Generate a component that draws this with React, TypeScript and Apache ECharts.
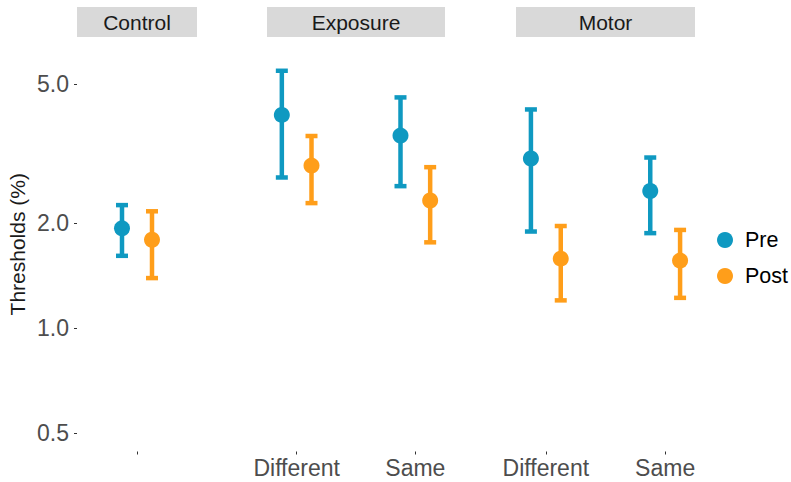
import React, { useEffect, useRef } from "react";
import * as echarts from "echarts";

// Facets and their categories
const facets = ["Control", "Exposure", "Motor"];
const facetCategories = [[""], ["Different", "Same"], ["Different", "Same"]];

// Values in order: Control, Exposure-Different, Exposure-Same, Motor-Different, Motor-Same
const preMean = [1.93, 4.08, 3.56, 3.06, 2.47];
const preLow = [1.61, 2.7, 2.55, 1.89, 1.87];
const preHigh = [2.25, 5.46, 4.58, 4.23, 3.08];

const postMean = [1.79, 2.92, 2.32, 1.58, 1.56];
const postLow = [1.39, 2.28, 1.76, 1.2, 1.22];
const postHigh = [2.16, 3.55, 2.89, 1.96, 1.91];

const yTicks = [0.5, 1.0, 2.0, 5.0];
const groups = ["Pre", "Post"];

const COLORS = ["#0F99C1", "#FF9E1A"];
const FONT = "'Liberation Sans', Arial, Helvetica, sans-serif";

// layout
const PANEL_TOP = 37;
const PANEL_HEIGHT = 414.5;
const panels = [
  { left: 77, width: 120, min: -0.5, max: 0.5 },
  { left: 267, width: 178, min: -0.25, max: 1.25 },
  { left: 516, width: 179, min: -0.25, max: 1.25 },
];
const DODGE = 0.125;
const Y_MIN = -0.354;
const Y_MAX = 0.834;

export default function App() {
  const ref = useRef<HTMLDivElement>(null);

  useEffect(() => {
    if (!ref.current) return;
    const chart = echarts.init(ref.current, undefined, { renderer: "svg" });

    const grids: any[] = [];
    const xAxes: any[] = [];
    const yAxes: any[] = [];
    const series: any[] = [];
    const graphics: any[] = [];

    const groupData = [
      { mean: preMean, low: preLow, high: preHigh },
      { mean: postMean, low: postLow, high: postHigh },
    ];

    let flatIndex = 0;
    facets.forEach((facet, fi) => {
      const p = panels[fi];
      const cats = facetCategories[fi];
      grids.push({
        left: p.left,
        width: p.width,
        top: PANEL_TOP,
        height: PANEL_HEIGHT,
        containLabel: false,
      });
      const catIdx = cats.map((_, i) => i);
      xAxes.push({
        type: "value",
        gridIndex: fi,
        position: "bottom",
        min: p.min,
        max: p.max,
        axisLine: { show: false, onZero: false },
        splitLine: { show: false },
        axisTick: {
          show: true,
          customValues: catIdx,
          length: 3,
          lineStyle: { color: "#333333", width: 1 },
        },
        axisLabel: {
          show: true,
          customValues: catIdx,
          formatter: (v: number) => cats[Math.round(v)] ?? "",
          margin: 5,
          fontSize: 23,
          color: "#4D4D4D",
          fontFamily: FONT,
        },
      });
      yAxes.push({
        type: "value",
        gridIndex: fi,
        position: "left",
        min: Y_MIN,
        max: Y_MAX,
        show: fi === 0,
        name: fi === 0 ? "Thresholds (%)" : "",
        nameLocation: "middle",
        nameRotate: 90,
        nameGap: 49,
        nameTextStyle: { fontSize: 21, color: "#1A1A1A", fontFamily: FONT },
        axisLine: { show: false, onZero: false },
        splitLine: { show: false },
        axisTick: {
          show: fi === 0,
          customValues: yTicks.map((t) => Math.log10(t)),
          length: 3,
          lineStyle: { color: "#333333", width: 1 },
        },
        axisLabel: {
          show: fi === 0,
          customValues: yTicks.map((t) => Math.log10(t)),
          formatter: (v: number) => Math.pow(10, v).toFixed(1),
          margin: 8,
          fontSize: 23,
          color: "#4D4D4D",
          fontFamily: FONT,
        },
      });

      // strip
      graphics.push({
        type: "rect",
        left: p.left,
        top: 7,
        shape: { width: p.width, height: 30 },
        style: { fill: "#D9D9D9" },
        silent: true,
      });
      graphics.push({
        type: "text",
        x: p.left + p.width / 2,
        y: 22.5,
        style: {
          text: facet,
          fontSize: 21,
          fill: "#1A1A1A",
          fontFamily: FONT,
          align: "center",
          verticalAlign: "middle",
        },
        silent: true,
      });

      groups.forEach((g, gi) => {
        const offset = gi === 0 ? -DODGE : DODGE;
        const gd = groupData[gi];
        const barData: number[][] = [];
        const pointData: number[][] = [];
        cats.forEach((_, ci) => {
          const k = flatIndex + ci;
          const x = ci + offset;
          barData.push([x, Math.log10(gd.low[k]), Math.log10(gd.high[k])]);
          pointData.push([x, Math.log10(gd.mean[k])]);
        });
        series.push({
          type: "custom",
          name: g,
          xAxisIndex: fi,
          yAxisIndex: fi,
          data: barData,
          encode: { x: 0, y: [1, 2] },
          z: 2,
          itemStyle: { color: COLORS[gi] },
          renderItem: (params: any, api: any) => {
            const x = api.value(0);
            const lo = api.coord([x, api.value(1)]);
            const hi = api.coord([x, api.value(2)]);
            const half = 6;
            const st = { stroke: COLORS[gi], lineWidth: 4.5, lineCap: "butt" };
            return {
              type: "group",
              children: [
                { type: "line", shape: { x1: lo[0], y1: lo[1], x2: hi[0], y2: hi[1] }, style: st },
                { type: "line", shape: { x1: lo[0] - half, y1: lo[1], x2: lo[0] + half, y2: lo[1] }, style: st },
                { type: "line", shape: { x1: hi[0] - half, y1: hi[1], x2: hi[0] + half, y2: hi[1] }, style: st },
              ],
            };
          },
        });
        series.push({
          type: "scatter",
          name: g,
          xAxisIndex: fi,
          yAxisIndex: fi,
          data: pointData,
          symbol: "circle",
          symbolSize: 16,
          z: 3,
          itemStyle: { color: COLORS[gi], opacity: 1 },
        });
      });
      flatIndex += cats.length;
    });

    chart.setOption({
      animation: false,
      backgroundColor: "#FFFFFF",
      textStyle: { fontFamily: FONT },
      grid: grids,
      xAxis: xAxes,
      yAxis: yAxes,
      series,
      graphic: graphics,
      legend: {
        data: groups.map((g, i) => ({ name: g, icon: "circle", itemStyle: { color: COLORS[i] } })),
        orient: "vertical",
        left: 717,
        top: 229,
        padding: 0,
        itemWidth: 16,
        itemHeight: 16,
        itemGap: 14,
        selectedMode: false,
        textStyle: {
          fontSize: 21.5,
          color: "#000000",
          fontFamily: FONT,
          lineHeight: 16,
          padding: [0, 0, 0, 7],
        },
      },
    });

    return () => chart.dispose();
  }, []);

  return (
    <div
      ref={ref}
      style={{ position: "absolute", left: 0, top: 0, width: 791, height: 482 }}
    />
  );
}
